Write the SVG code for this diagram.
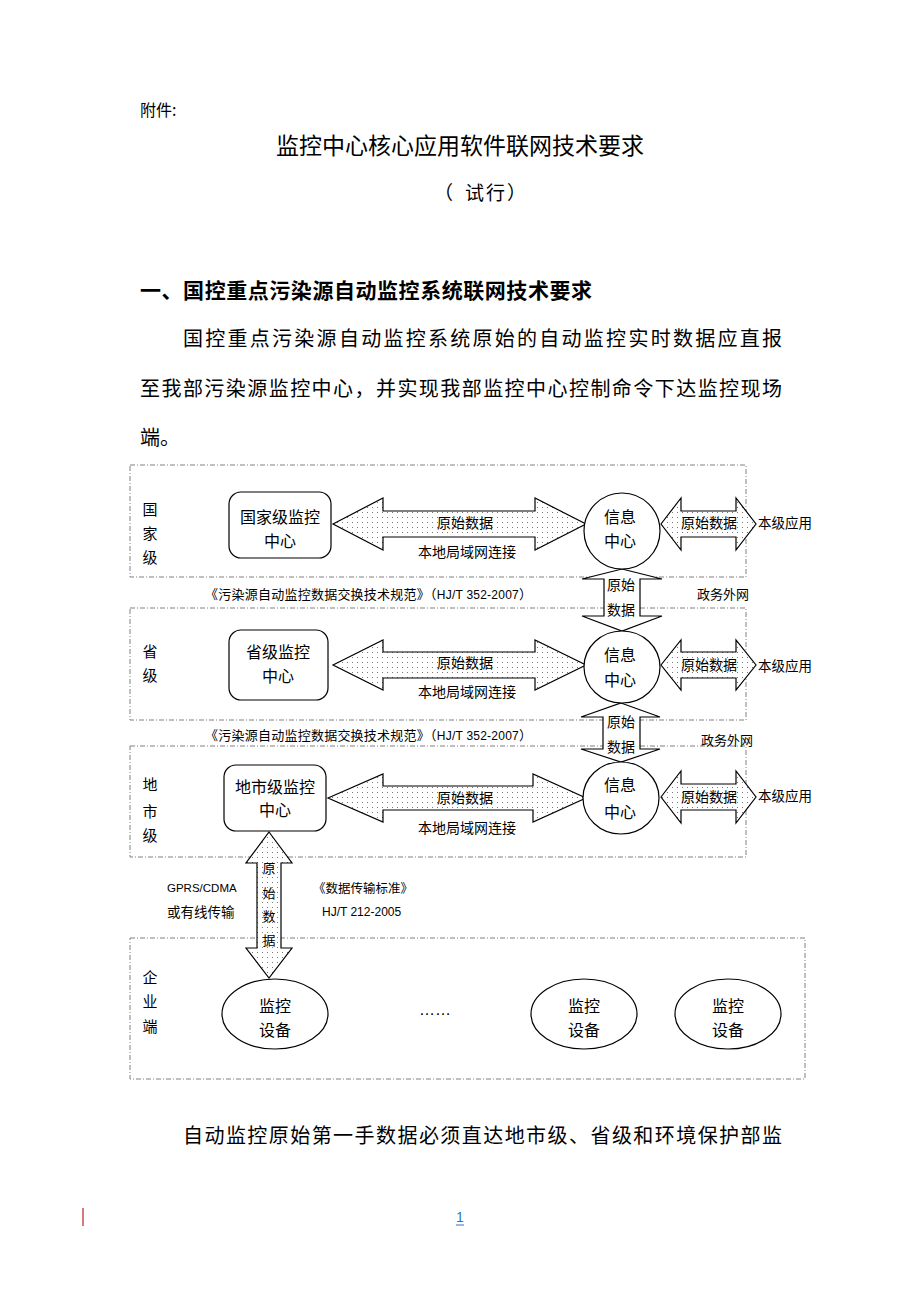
<svg xmlns="http://www.w3.org/2000/svg" width="920" height="1302" viewBox="0 0 920 1302">
<style>
text{font-family:"Noto Sans CJK SC","Liberation Sans",sans-serif;fill:#000}
.body{font-size:20px}
.lv{font-size:15px;text-anchor:middle}
.nd{font-size:16px;text-anchor:middle}
.lb{font-size:14px;text-anchor:middle}
.sm{font-size:13px}
.lat{font-family:"Liberation Sans","Noto Sans CJK SC",sans-serif}
.zone{fill:none;stroke:#808080;stroke-width:1;stroke-dasharray:5 2 1 2}
.box{fill:#fff;stroke:#000;stroke-width:1.2}
.arr{fill:url(#dots);stroke:#000;stroke-width:1.2;stroke-linejoin:miter}
.arrw{fill:#fff;stroke:#000;stroke-width:1.2}
</style>
<defs>
<pattern id="dots" width="5" height="5" patternUnits="userSpaceOnUse">
<rect width="5" height="5" fill="#fff"/>
<rect x="2" y="2" width="1" height="1" fill="#777"/>
</pattern>
</defs>
<rect width="920" height="1302" fill="#fff"/>

<g id="page-text">
<text x="140" y="116" style="font-size:16px">附件:</text>
<text x="460" y="154" style="font-size:23px" text-anchor="middle">监控中心核心应用软件联网技术要求</text>
<text x="434 465 486 507" y="200" style="font-size:19px">（试行）</text>
<text x="140" y="298" style="font-size:21px;font-weight:bold" textLength="452" lengthAdjust="spacing">一、国控重点污染源自动监控系统联网技术要求</text>
<text class="body" x="183" y="346" textLength="599" lengthAdjust="spacing">国控重点污染源自动监控系统原始的自动监控实时数据应直报</text>
<text class="body" x="140" y="396" textLength="642" lengthAdjust="spacing">至我部污染源监控中心，并实现我部监控中心控制命令下达监控现场</text>
<text class="body" x="140" y="445">端。</text>
<text class="body" x="183" y="1143" textLength="599" lengthAdjust="spacing">自动监控原始第一手数据必须直达地市级、省级和环境保护部监</text>
<line x1="83" y1="1208" x2="83" y2="1226" stroke="#c0504d" stroke-width="1.5"/>
<text x="460" y="1222" style="font-size:14px;fill:#2e74c8" text-anchor="middle" class="lat">1</text>
<line x1="456" y1="1225" x2="464" y2="1225" stroke="#2e74c8" stroke-width="1"/>
</g>

<g id="zones">
<rect class="zone" x="130" y="465" width="616" height="112"/>
<rect class="zone" x="130" y="608" width="616" height="112"/>
<rect class="zone" x="130" y="746" width="616" height="111"/>
<rect class="zone" x="130" y="938" width="675" height="141"/>
<text class="lv" x="150" y="515">国</text>
<text class="lv" x="150" y="539">家</text>
<text class="lv" x="150" y="563">级</text>
<text class="lv" x="150" y="657">省</text>
<text class="lv" x="150" y="681">级</text>
<text class="lv" x="150" y="790">地</text>
<text class="lv" x="150" y="817">市</text>
<text class="lv" x="150" y="841">级</text>
<text class="lv" x="150" y="983">企</text>
<text class="lv" x="150" y="1007">业</text>
<text class="lv" x="150" y="1032">端</text>
</g>

<g id="connectors">
<polygon class="arr" points="333,524 383,498 383,511 535,511 535,498 586,524 535,550 535,537 383,537 383,550"/>
<text class="lb" x="465" y="528">原始数据</text>
<text class="lb" x="467" y="557">本地局域网连接</text>
<polygon class="arr" points="661,524 681,498 681,511 736,511 736,498 756,524 736,550 736,537 681,537 681,550"/>
<text class="lb" x="709" y="528">原始数据</text>
<polygon class="arr" points="333,665 383,640 383,652 535,652 535,640 586,665 535,690 535,678 383,678 383,690"/>
<text class="lb" x="465" y="668">原始数据</text>
<text class="lb" x="467" y="697">本地局域网连接</text>
<polygon class="arr" points="661,665 681,640 681,652 736,652 736,640 756,665 736,690 736,678 681,678 681,690"/>
<text class="lb" x="709" y="670">原始数据</text>
<polygon class="arr" points="328,798 383,774 383,786 533,786 533,774 586,798 533,822 533,810 383,810 383,822"/>
<text class="lb" x="465" y="803">原始数据</text>
<text class="lb" x="467" y="833">本地局域网连接</text>
<polygon class="arr" points="661,797 681,771 681,784 736,784 736,771 756,797 736,823 736,810 681,810 681,823"/>
<text class="lb" x="709" y="802">原始数据</text>
<polygon class="arrw" points="622,569 662,579 640,579 640,616 662,616 622,631 582,616 604,616 604,579 582,579"/>
<text class="lb" x="621" y="590">原始</text>
<text class="lb" x="621" y="615">数据</text>
<polygon class="arrw" points="621,703 660,717 640,717 640,749 660,749 621,762 581,749 603,749 603,717 581,717"/>
<text class="lb" x="621" y="727">原始</text>
<text class="lb" x="621" y="752">数据</text>
<polygon class="arr" points="269,832 292,863 281,863 281,948 292,948 269,978 246,948 257,948 257,863 246,863"/>
<text class="sm" x="269" y="873" text-anchor="middle">原</text>
<text class="sm" x="269" y="898" text-anchor="middle">始</text>
<text class="sm" x="269" y="921" text-anchor="middle">数</text>
<text class="sm" x="269" y="945" text-anchor="middle">据</text>
<text class="sm" x="758" y="528" style="font-size:13.5px">本级应用</text>
<text class="sm" x="758" y="671" style="font-size:13.5px">本级应用</text>
<text class="sm" x="758" y="801" style="font-size:13.5px">本级应用</text>
<text class="sm" x="205" y="599" textLength="327" lengthAdjust="spacing">《污染源自动监控数据交换技术规范》（<tspan class="lat" style="font-size:12px">HJ/T 352-2007</tspan>）</text>
<text class="sm" x="205" y="740" textLength="327" lengthAdjust="spacing">《污染源自动监控数据交换技术规范》（<tspan class="lat" style="font-size:12px">HJ/T 352-2007</tspan>）</text>
<text class="sm" x="697" y="599">政务外网</text>
<text class="sm" x="701" y="745">政务外网</text>
<text class="lat" x="167" y="892" style="font-size:11.5px">GPRS/CDMA</text>
<text class="sm" x="167" y="917" style="font-size:13.5px">或有线传输</text>
<text class="sm" x="313" y="893" style="font-size:12.5px">《数据传输标准》</text>
<text class="lat" x="322" y="916" style="font-size:12px">HJ/T 212-2005</text>
</g>

<g id="node-national-center">
<rect class="box" x="229" y="492" width="102" height="66" rx="12"/>
<text class="nd" x="280" y="523">国家级监控</text>
<text class="nd" x="280" y="547">中心</text>
</g>
<g id="node-national-info">
<ellipse class="box" cx="622" cy="531" rx="38" ry="38"/>
<text class="nd" x="620" y="523">信息</text>
<text class="nd" x="620" y="547">中心</text>
</g>
<g id="node-province-center">
<rect class="box" x="229" y="630" width="99" height="70" rx="12"/>
<text class="nd" x="278" y="658">省级监控</text>
<text class="nd" x="278" y="682">中心</text>
</g>
<g id="node-province-info">
<ellipse class="box" cx="622" cy="667" rx="38" ry="36"/>
<text class="nd" x="620" y="661">信息</text>
<text class="nd" x="620" y="686">中心</text>
</g>
<g id="node-city-center">
<rect class="box" x="224" y="765" width="102" height="66" rx="12"/>
<text class="nd" x="275" y="793">地市级监控</text>
<text class="nd" x="275" y="816">中心</text>
</g>
<g id="node-city-info">
<ellipse class="box" cx="621" cy="798" rx="38" ry="36"/>
<text class="nd" x="620" y="791">信息</text>
<text class="nd" x="620" y="818">中心</text>
</g>
<g id="node-device-1">
<ellipse class="box" cx="275" cy="1014" rx="53" ry="35"/>
<text class="nd" x="275" y="1012">监控</text>
<text class="nd" x="275" y="1036">设备</text>
</g>
<g id="node-ellipsis">
<text class="lat" x="435" y="1015" style="font-size:16px" text-anchor="middle">……</text>
</g>
<g id="node-device-2">
<ellipse class="box" cx="584" cy="1014" rx="53" ry="35"/>
<text class="nd" x="584" y="1012">监控</text>
<text class="nd" x="584" y="1036">设备</text>
</g>
<g id="node-device-3">
<ellipse class="box" cx="728" cy="1014" rx="53" ry="35"/>
<text class="nd" x="728" y="1012">监控</text>
<text class="nd" x="728" y="1036">设备</text>
</g>
</svg>
